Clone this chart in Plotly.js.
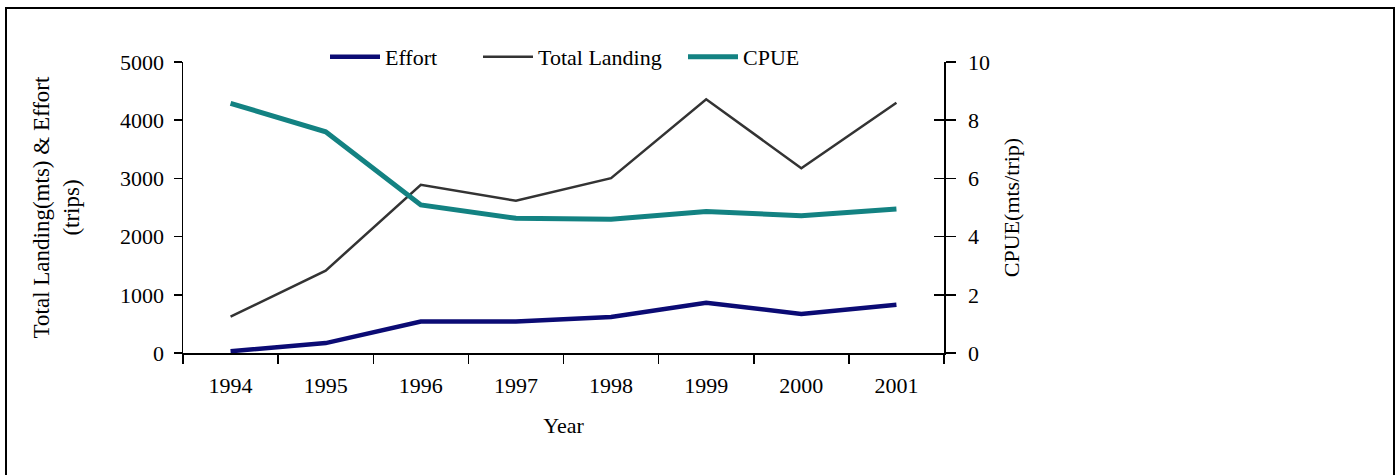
<!DOCTYPE html>
<html>
<head>
<meta charset="utf-8">
<script src="https://cdn.plot.ly/plotly-3.0.1.min.js"></script>
<style>
  html, body { margin: 0; padding: 0; background: #ffffff; }
  #wrap { position: relative; width: 1396px; height: 475px; overflow: hidden; }
  #chart { position: absolute; left: 0; top: 0; width: 1396px; height: 475px; }
  #frame { position: absolute; left: 5px; top: 7px; width: 1386px; height: 520px;
           border: 2px solid #000; pointer-events: none; }
</style>
</head>
<body>
<div id="wrap">
  <div id="chart"></div>
  <div id="frame"></div>
</div>
<script>
// Fishery statistics by year
const years = ['1994', '1995', '1996', '1997', '1998', '1999', '2000', '2001'];
const effortTrips = [30, 170, 540, 540, 620, 865, 670, 830];
const totalLandingMts = [625, 1415, 2890, 2615, 3005, 4360, 3175, 4300];
const cpueMtsPerTrip = [8.58, 7.6, 5.09, 4.63, 4.6, 4.86, 4.72, 4.95];

const FONT = 'Liberation Serif, Times New Roman, serif';

const traces = [
  {
    x: years, y: effortTrips, name: 'Effort', type: 'scatter', mode: 'lines',
    line: { color: '#0b0b74', width: 4.5 }, yaxis: 'y', legend: 'legend'
  },
  {
    x: years, y: totalLandingMts, name: 'Total Landing', type: 'scatter', mode: 'lines',
    line: { color: '#333333', width: 2.5 }, yaxis: 'y', legend: 'legend2'
  },
  {
    x: years, y: cpueMtsPerTrip, name: 'CPUE', type: 'scatter', mode: 'lines',
    line: { color: '#138282', width: 5 }, yaxis: 'y2', legend: 'legend3'
  },
  // carries the inner half of the right-axis cross ticks
  { x: [], y: [], yaxis: 'y3', showlegend: false, hoverinfo: 'skip', type: 'scatter' }
];

function legendAt(xpx) {
  return {
    xref: 'container', yref: 'container',
    x: xpx / 1396, y: 1 - 57 / 475, xanchor: 'left', yanchor: 'middle',
    orientation: 'h', bgcolor: 'rgba(0,0,0,0)', borderwidth: 0,
    itemwidth: 50,
    font: { family: FONT, size: 22, color: '#000' }
  };
}

const layout = {
  width: 1396, height: 475,
  margin: { l: 183, r: 452, t: 62, b: 122, autoexpand: false },
  paper_bgcolor: '#ffffff', plot_bgcolor: '#ffffff',
  font: { family: FONT, size: 22, color: '#000' },
  showlegend: true,
  legend: legendAt(325),
  legend2: legendAt(478),
  legend3: legendAt(683),
  xaxis: {
    type: 'category', range: [-0.5, 7.5], automargin: true,
    showline: true, linecolor: '#000', linewidth: 1.5,
    ticks: 'outside', tickson: 'boundaries', ticklen: 9, tickcolor: '#000', tickwidth: 1.5,
    ticklabelstandoff: 12,
    showgrid: false, zeroline: false,
    tickfont: { family: FONT, size: 22 },
    title: { text: 'Year', font: { family: FONT, size: 22 }, standoff: 20 }
  },
  yaxis: {
    range: [0, 5000], dtick: 1000, tick0: 0, automargin: true,
    showline: true, linecolor: '#000', linewidth: 1.5,
    ticks: 'outside', ticklen: 8, tickcolor: '#000', tickwidth: 1.5,
    ticklabelstandoff: 5,
    showgrid: false, zeroline: false,
    tickfont: { family: FONT, size: 22 },
    title: { text: 'Total Landing(mts) &amp; Effort<br>(trips)', font: { family: FONT, size: 23 }, standoff: 34 }
  },
  yaxis2: {
    overlaying: 'y', side: 'right', anchor: 'x', automargin: true,
    range: [0, 10], dtick: 2, tick0: 0,
    showline: true, linecolor: '#000', linewidth: 1.5,
    ticks: 'outside', ticklen: 10, tickcolor: '#000', tickwidth: 1.5,
    ticklabelstandoff: 8,
    showgrid: false, zeroline: false,
    tickfont: { family: FONT, size: 22 },
    title: { text: 'CPUE(mts/trip)', font: { family: FONT, size: 22 }, standoff: 14 }
  },
  yaxis3: {
    overlaying: 'y', side: 'right', anchor: 'x',
    range: [0, 10], dtick: 2, tick0: 0,
    showline: false, showticklabels: false,
    ticks: 'inside', ticklen: 10, tickcolor: '#000', tickwidth: 1.5,
    showgrid: false, zeroline: false
  }
};

Plotly.newPlot('chart', traces, layout, { staticPlot: true, displayModeBar: false });
</script>
</body>
</html>
